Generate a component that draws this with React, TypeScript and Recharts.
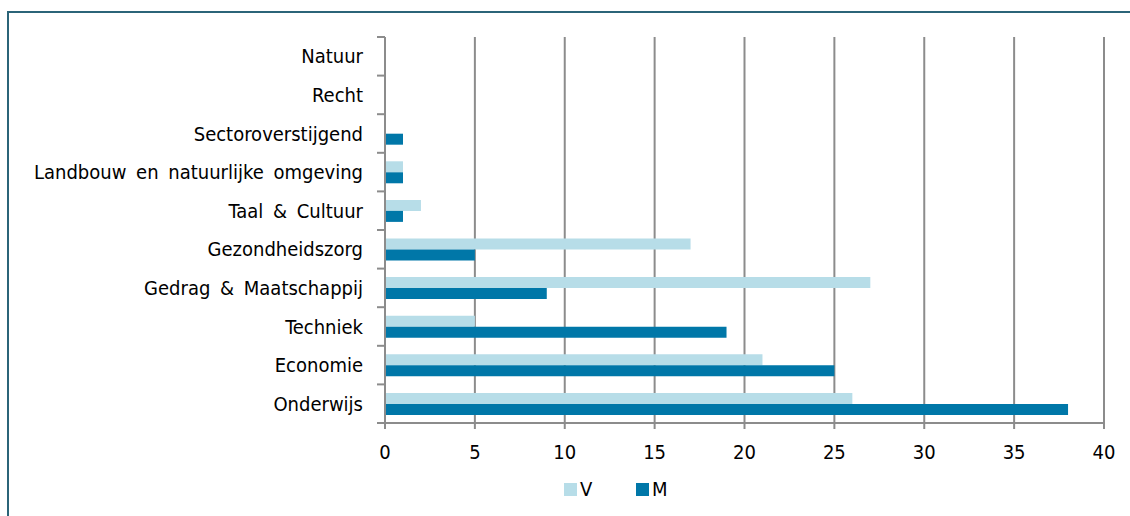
import React from 'react';
import { BarChart, Bar, XAxis, YAxis, CartesianGrid, Legend } from 'recharts';

const categories = [
  'Natuur',
  'Recht',
  'Sectoroverstijgend',
  'Landbouw en natuurlijke omgeving',
  'Taal & Cultuur',
  'Gezondheidszorg',
  'Gedrag & Maatschappij',
  'Techniek',
  'Economie',
  'Onderwijs',
];
const valuesV = [0, 0, 0, 1, 2, 17, 27, 5, 21, 26];
const valuesM = [0, 0, 1, 1, 1, 5, 9, 19, 25, 38];
const xTicks = [0, 5, 10, 15, 20, 25, 30, 35, 40];

const series = [
  { key: 'V', name: 'V', color: '#b7dde8' },
  { key: 'M', name: 'M', color: '#0077a8' },
];

const data = categories.map((name, i) => ({ name, V: valuesV[i], M: valuesM[i] }));

const FONT = "'DejaVu Sans Condensed', 'DejaVu Sans', sans-serif";
const GRID = '#8c8c8c';
const Y_TICK_SIZE = 8;
const Y_TICK_MARGIN = 14;

const renderLegend = () => (
  <div style={{ display: 'flex', alignItems: 'center', height: 20, fontFamily: FONT, fontSize: 20, lineHeight: '20px', fontStretch: 'condensed' }}>
    {series.map((s) => (
      <div key={s.key} style={{ display: 'flex', alignItems: 'center', width: 72 }}>
        <div style={{ width: 13, height: 13, background: s.color, marginRight: 3 }} />
        <span style={{ color: '#000' }}>{s.name}</span>
      </div>
    ))}
  </div>
);

const CategoryTick = (props: any) => {
  const { x, y, payload, index, visibleTicksCount } = props;
  const half = payload && typeof payload.offset === 'number' ? payload.offset : 0;
  const axisX = x + Y_TICK_SIZE + Y_TICK_MARGIN;
  const lx1 = axisX - Y_TICK_SIZE;
  const isLast = index === (visibleTicksCount ?? categories.length) - 1;
  return (
    <g>
      {half > 0 && <line x1={lx1} x2={axisX} y1={y - half} y2={y - half} stroke={GRID} strokeWidth={2} />}
      {half > 0 && isLast && <line x1={lx1} x2={axisX} y1={y + half} y2={y + half} stroke={GRID} strokeWidth={2} />}
      <text
        x={x}
        y={y}
        dy="0.355em"
        textAnchor="end"
        fill="#000"
        fontSize={20}
        fontFamily={FONT}
        style={{ wordSpacing: '4px', fontStretch: 'condensed' }}
      >
        {payload.value}
      </text>
    </g>
  );
};

export default function App() {
  return (
    <div style={{ position: 'absolute', left: 0, top: 0, width: 1130, height: 516, overflow: 'hidden', background: '#fff' }}>
      <div
        style={{
          position: 'absolute',
          left: 7,
          top: 11,
          width: 1200,
          height: 600,
          borderLeft: '2px solid #2b6478',
          borderTop: '2px solid #2b6478',
        }}
      />
      <div style={{ position: 'absolute', left: 0, top: 0 }}>
        <BarChart
          width={1130}
          height={516}
          data={data}
          layout="vertical"
          margin={{ top: 37, right: 26, bottom: 43, left: 0 }}
          barCategoryGap="22%"
          barGap={0}
          style={{ fontFamily: FONT, fontStretch: 'condensed' }}
        >
          <CartesianGrid horizontal={false} stroke={GRID} strokeWidth={2} />
          <XAxis
            type="number"
            domain={[0, 40]}
            ticks={xTicks}
            interval={0}
            height={30}
            tickSize={6}
            tickMargin={16}
            axisLine={{ stroke: GRID, strokeWidth: 2 }}
            tickLine={{ stroke: GRID, strokeWidth: 2 }}
            tick={{ fill: '#000', fontSize: 20, fontFamily: FONT }}
          />
          <YAxis
            dataKey="name"
            type="category"
            width={385}
            interval={0}
            tickLine={false}
            tickSize={Y_TICK_SIZE}
            tickMargin={Y_TICK_MARGIN}
            axisLine={{ stroke: GRID, strokeWidth: 2 }}
            tick={<CategoryTick />}
          />
          {series.map((s) => (
            <Bar key={s.key} dataKey={s.key} name={s.name} fill={s.color} isAnimationActive={false} />
          ))}
          <Legend
            verticalAlign="bottom"
            content={renderLegend}
            wrapperStyle={{ left: 564, top: 479, width: 200, height: 20 }}
          />
        </BarChart>
      </div>
    </div>
  );
}
